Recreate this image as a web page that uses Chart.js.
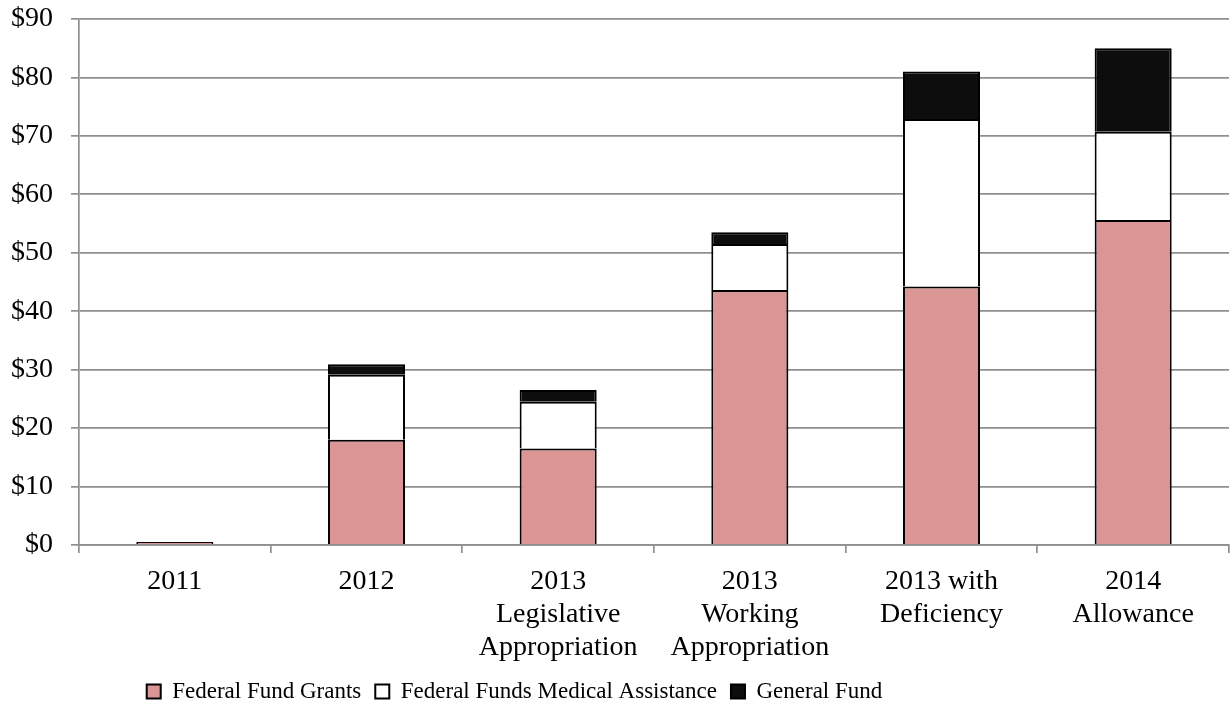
<!DOCTYPE html>
<html>
<head>
<meta charset="utf-8">
<script src="https://cdn.jsdelivr.net/npm/chart.js@4/dist/chart.umd.min.js"></script>
<style>
  html, body { margin: 0; padding: 0; background: #ffffff; }
  #wrap { width: 1231px; height: 727px; position: relative; }
</style>
</head>
<body>
<div id="wrap"><canvas id="c" width="1231" height="727"></canvas></div>
<script>
// Categories (multi-line axis labels)
const categories = [
  ["2011"],
  ["2012"],
  ["2013", "Legislative", "Appropriation"],
  ["2013", "Working", "Appropriation"],
  ["2013 with", "Deficiency"],
  ["2014", "Allowance"]
];

// Funding by source, $ millions
const federalFundGrants = [0.5, 18.0, 16.5, 43.6, 44.2, 55.6];
const federalFundsMedicalAssistance = [0, 11.1, 8.0, 7.9, 28.7, 15.1];
const generalFund = [0, 1.8, 2.0, 2.0, 8.1, 14.3];

// Y axis tick values
const yTicks = [0, 10, 20, 30, 40, 50, 60, 70, 80, 90];

const seriesNames = ["Federal Fund Grants", "Federal Funds Medical Assistance", "General Fund"];

const FONT = "'Liberation Serif', 'Times New Roman', serif";
const GRID = "#8f8f8f";

// Nudge the legend block: it sits left of the plot centre, just under the axis labels
const legendShift = {
  id: "legendShift",
  afterLayout(chart) {
    const lg = chart.legend;
    if (!lg) return;
    const dx = -100, dy = -10;
    lg.left += dx;
    lg.right += dx;
    lg.top += dy;
    lg.bottom += dy;
  }
};

new Chart(document.getElementById("c"), {
  type: "bar",
  data: {
    labels: categories,
    datasets: [
      { label: seriesNames[0], data: federalFundGrants, backgroundColor: "#d99694", borderColor: "#000000", borderWidth: 2 },
      { label: seriesNames[1], data: federalFundsMedicalAssistance, backgroundColor: "#ffffff", borderColor: "#000000", borderWidth: 2 },
      { label: seriesNames[2], data: generalFund, backgroundColor: "#0d0d0d", borderColor: "#000000", borderWidth: 2 }
    ]
  },
  plugins: [legendShift],
  options: {
    responsive: false,
    animation: false,
    layout: { padding: { left: 0, right: 2, top: 2, bottom: 4 } },
    datasets: { bar: { barPercentage: 1.0, categoryPercentage: 0.402, borderSkipped: "start" } },
    plugins: {
      legend: {
        position: "bottom",
        labels: {
          font: { family: FONT, size: 23 },
          color: "#000000",
          boxWidth: 14,
          boxHeight: 14,
          padding: 14,
          useBorderRadius: false
        }
      },
      tooltip: { enabled: false }
    },
    scales: {
      x: {
        stacked: true,
        grid: {
          offset: true,
          drawOnChartArea: false,
          drawTicks: true,
          tickLength: 8,
          color: GRID,
          lineWidth: 1.7
        },
        border: { color: GRID, width: 1.7 },
        ticks: {
          font: { family: FONT, size: 28, lineHeight: 1.18 },
          color: "#000000",
          maxRotation: 0,
          autoSkip: false,
          padding: 12
        }
      },
      y: {
        stacked: true,
        min: 0,
        max: 90,
        afterBuildTicks: (axis) => { axis.ticks = yTicks.map(v => ({ value: v })); },
        afterFit: (axis) => {
          axis.width = 79;
          axis.paddingTop = 19;
          axis.paddingBottom = 0;
        },
        grid: {
          color: GRID,
          lineWidth: 1.7,
          drawTicks: true,
          tickLength: 8
        },
        border: { color: GRID, width: 1.7 },
        ticks: {
          font: { family: FONT, size: 28 },
          color: "#000000",
          padding: 18,
          callback: (v) => "$" + v
        }
      }
    }
  }
});
</script>
</body>
</html>
